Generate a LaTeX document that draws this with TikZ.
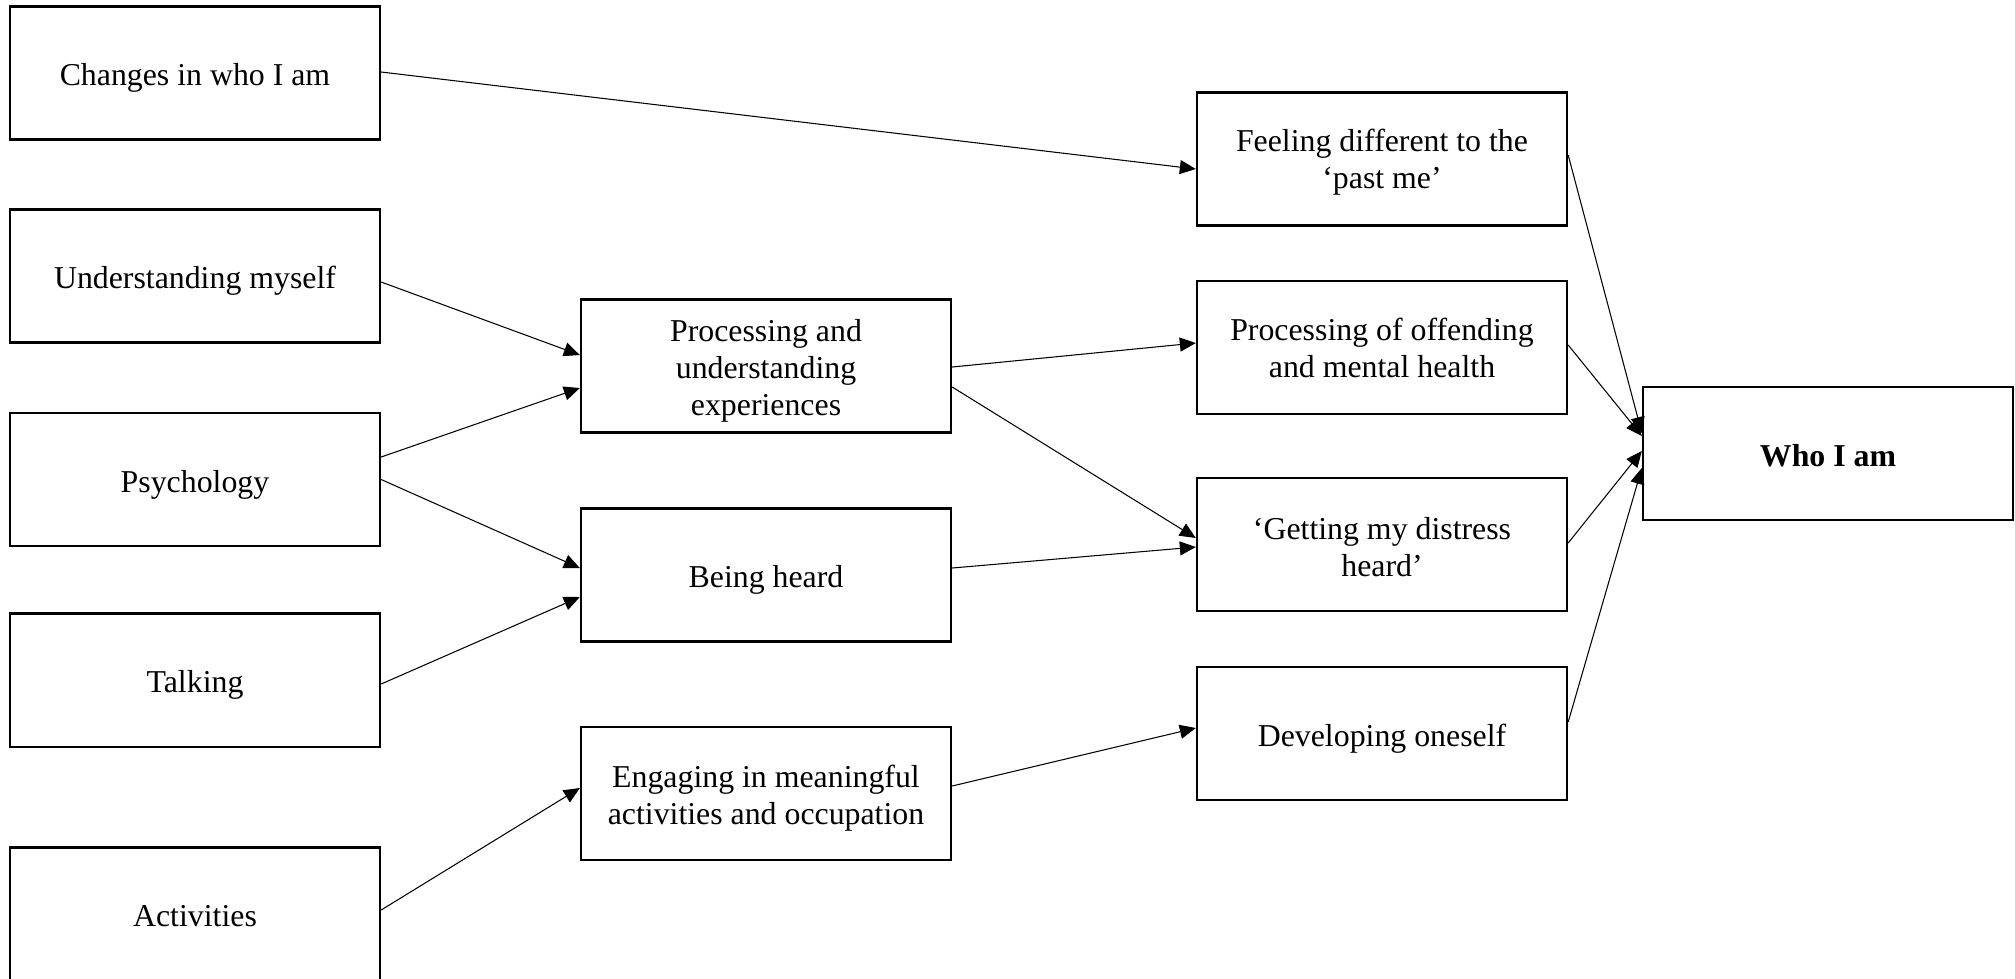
\documentclass[tikz,border=0pt]{standalone}
\usepackage{fontspec}
\setmainfont{Liberation Serif}
\usetikzlibrary{arrows.meta,calc}
\begin{document}
\begin{tikzpicture}[x=0.01cm,y=-0.01cm,
  txt/.style={align=center, inner sep=0pt, yshift=-0.05cm,
    font=\fontsize{9.05}{10.5}\selectfont},
  frame/.style={draw, line width=0.6pt, minimum width=3.7cm, minimum height=1.33cm,
    inner sep=0pt},
  box/.style={frame, label={[txt]center:{#1}}},
  link/.style={-{Triangle[length=1.6mm,width=1.4mm]}, line width=0.3pt}]
\useasboundingbox (0,0) rectangle (2015,978);

% left column
\node[box={Changes in who I am}]  (chg)  at (195,73)    {};
\node[box={Understanding myself}] (und)  at (195,276)   {};
\node[box={Psychology}]           (psy)  at (195,479.5) {};
\node[box={Talking}]              (talk) at (195,680)   {};
\node[frame, label={[txt, yshift=0.025cm]center:Activities}] (act) at (195,914) {};

% middle column
\node[box={Processing and\\understanding\\experiences}]        (proc)  at (766,366)   {};
\node[box={Being heard}]                                       (heard) at (766,575)   {};
\node[box={Engaging in meaningful\\activities and occupation}] (eng)   at (766,793.5) {};

% right column
\node[frame, label={[txt, yshift=0.02cm]center:Feeling different to the\\‘past me’}] (feel) at (1382,159) {};
\node[frame, label={[txt, yshift=0.05cm]center:Processing of offending\\and mental health}] (off) at (1382,347.5) {};
\node[frame, label={[txt, yshift=0.02cm]center:‘Getting my distress\\heard’}] (get) at (1382,544.5) {};
\node[box={Developing oneself}] (dev) at (1382,733.5) {};

% outcome
\node[frame, label={[txt, yshift=0.025cm]center:\textbf{Who I am}}] (who) at (1828,453.5) {};

% connectors
\draw[link] ($(chg.east)+(0,-1)$)   -- ($(feel.west)+(0,10)$);
\draw[link] ($(und.east)+(0,6)$)    -- ($(proc.west)+(0,-11)$);
\draw[link] ($(psy.east)+(0,-22.5)$) -- ($(proc.west)+(0,22)$);
\draw[link] ($(psy.east)+(0,0)$)    -- ($(heard.west)+(0,-7)$);
\draw[link] ($(talk.east)+(0,4)$)   -- ($(heard.west)+(0,22)$);
\draw[link] ($(act.east)+(0,-4)$)   -- ($(eng.west)+(0,-5.5)$);

\draw[link] ($(proc.east)+(0,1)$)   -- ($(off.west)+(0,-4.5)$);
\draw[link] ($(proc.east)+(0,21)$)  -- ($(get.west)+(0,-6.5)$);
\draw[link] ($(heard.east)+(0,-7)$) -- ($(get.west)+(0,2.5)$);
\draw[link] ($(eng.east)+(0,-7.5)$) -- ($(dev.west)+(0,-5.5)$);

\draw[link] ($(feel.east)+(0,-4)$)   -- ($(who.west)+(0,-20.5)$);
\draw[link] ($(off.east)+(0,-2.5)$)  -- ($(who.west)+(0,-17.5)$);
\draw[link] ($(get.east)+(0,-1.5)$)  -- ($(who.west)+(0,-2.5)$);
\draw[link] ($(dev.east)+(0,-11.5)$) -- ($(who.west)+(0,14.5)$);
\end{tikzpicture}
\end{document}
